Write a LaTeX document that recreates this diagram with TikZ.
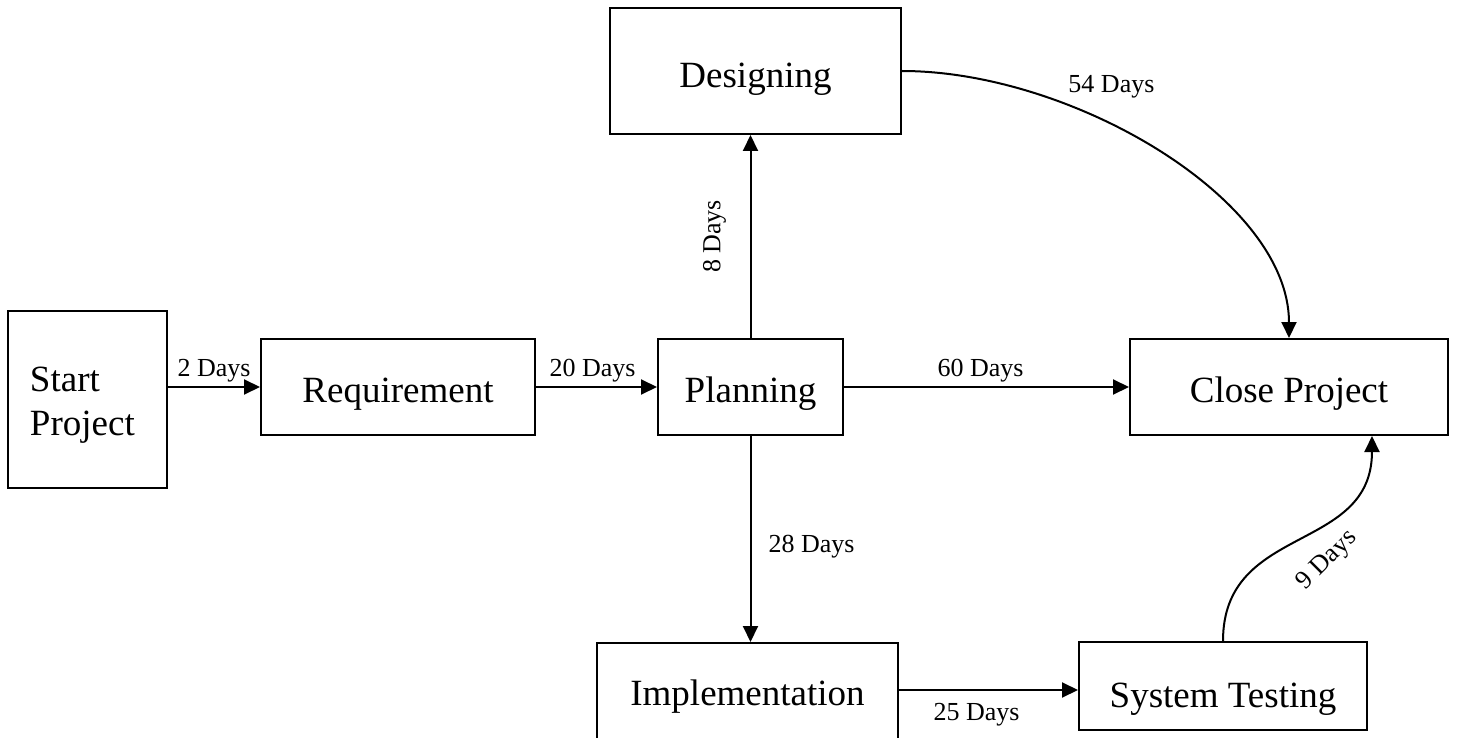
\documentclass[tikz,border=0pt]{standalone}
\usepackage{fontspec}
\setmainfont{Liberation Serif}
\usetikzlibrary{arrows.meta}
\usetikzlibrary{positioning}
\tikzstyle{box}=[draw, line width=1pt, inner sep=0pt, text depth=0pt, text height=15pt, font=\fontsize{18.5}{22}\selectfont]
\tikzstyle{lbl}=[inner sep=0pt, font=\fontsize{13}{15}\selectfont]
\tikzstyle{conn}=[line width=1pt, -{Triangle[length=8pt,width=7.5pt]}]

\begin{document}
\begin{tikzpicture}[x=0.5pt, y=-0.5pt]
    \useasboundingbox (0,0) rectangle (1458,738);
    \clip (0,0) rectangle (1458,738);
    % tasks
    \node [box, text height=, text depth=, minimum width=79.5pt, minimum height=88.5pt, text width=57.5pt, inner xsep=11pt, align=left] (start) at (87.5,399.5) {\raisebox{-2.5pt}[\height][\depth]{\begin{tabular}{@{}l@{}}Start\\Project\end{tabular}}};
    \node [box, minimum width=137pt, minimum height=48pt] (req) at (398,387) {Requirement};
    \node [box, minimum width=92.5pt, minimum height=48pt] (plan) at (750.5,387) {Planning};
    \node [box, minimum width=159pt, minimum height=48pt] (close) at (1289,387) {Close Project};
    \node [box, text height=17pt, minimum width=145.5pt, minimum height=63pt] (design) at (755.5,71) {Designing};
    \node [box, text height=12pt, minimum width=150.5pt, minimum height=50pt] (impl) at (747.5,693) {Implementation};
    \node [box, text height=21pt, minimum width=144pt, minimum height=44pt] (test) at (1223,686) {System Testing};
    % durations
    \draw [conn] (start.east |- req.west) -- (req.west) node [lbl, midway, above=2pt] {2 Days};
    \draw [conn] (req.east) -- (plan.west) node [lbl, midway, above=2pt, xshift=-2pt] {20 Days};
    \draw [conn] (plan.east) -- (close.west) node [lbl, midway, above=2pt, xshift=-3pt] {60 Days};
    \draw [conn] (plan.north) -- (plan.north |- design.south) node [lbl, midway, xshift=-18pt, rotate=90] {8 Days};
    \draw [conn] (plan.south) -- (plan.south |- impl.north) node [lbl, midway, anchor=west, xshift=8.5pt, yshift=-4pt] {28 Days};
    \draw [conn] ([yshift=1.5pt]impl.east) -- ([yshift=-2pt]test.west) node [lbl, midway, below=6pt, xshift=-6pt] {25 Days};
    \draw [conn] (design.east) .. controls +(170,0) and +(0,-139) .. (close.north) node [lbl, pos=0.35, xshift=12.5pt, yshift=13pt] {54 Days};
    \draw [conn] (test.north) .. controls +(0,-118) and +(0,118) .. ([xshift=41.5pt]close.south) node [lbl, pos=0.5, xshift=15pt, yshift=-11pt, rotate=45] {9 Days};
\end{tikzpicture}
\end{document}
